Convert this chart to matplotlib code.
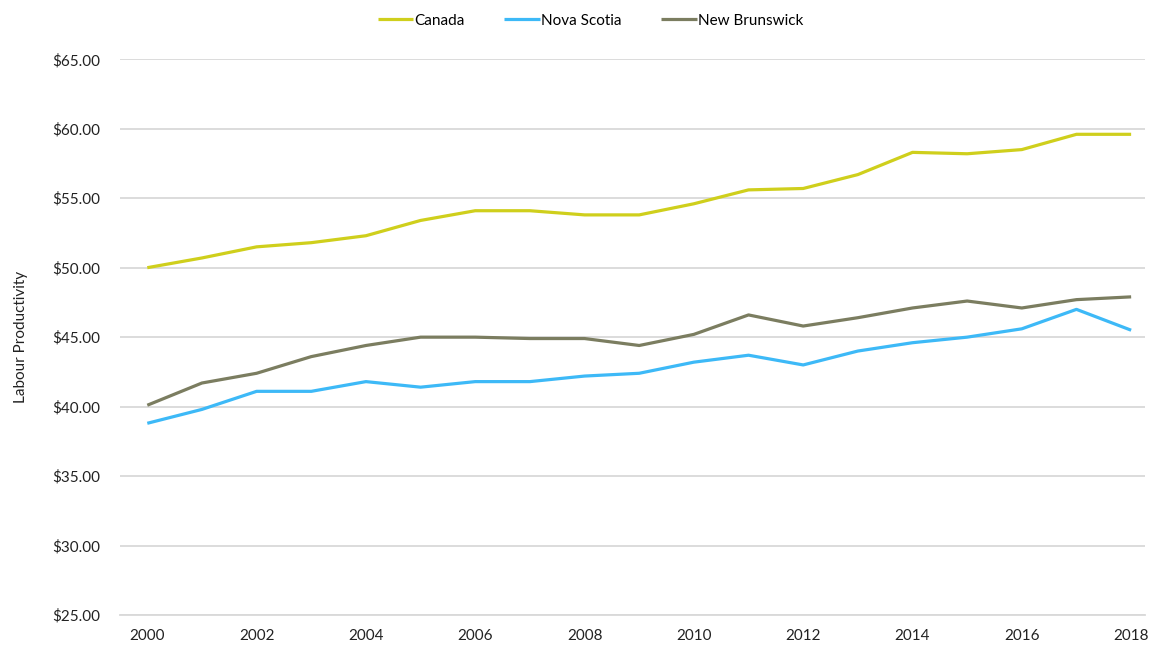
import numpy as np
import matplotlib.pyplot as plt
from matplotlib.ticker import FuncFormatter

years = list(range(2000, 2019))

canada = [50.0, 50.7, 51.5, 51.8, 52.3, 53.4, 54.1, 54.1, 53.8, 53.8,
          54.6, 55.6, 55.7, 56.7, 58.3, 58.2, 58.5, 59.6, 59.6]
nova_scotia = [38.8, 39.8, 41.1, 41.1, 41.8, 41.4, 41.8, 41.8, 42.2, 42.4,
               43.2, 43.7, 43.0, 44.0, 44.6, 45.0, 45.6, 47.0, 45.5]
new_brunswick = [40.1, 41.7, 42.4, 43.6, 44.4, 45.0, 45.0, 44.9, 44.9, 44.4,
                 45.2, 46.6, 45.8, 46.4, 47.1, 47.6, 47.1, 47.7, 47.9]

series = [
    ("Canada", canada, "#CFCF1C"),
    ("Nova Scotia", nova_scotia, "#3DB9F7"),
    ("New Brunswick", new_brunswick, "#7B7D60"),
]

plt.rcParams["font.family"] = ["Lato", "DejaVu Sans"]

fig = plt.figure(figsize=(11.58, 6.5), dpi=100)
ax = fig.add_axes([0.1036, 0.0538, 0.885, 0.855])

for name, vals, color in series:
    ax.plot(years, vals, color=color, linewidth=2.3, label=name,
            solid_joinstyle="round", solid_capstyle="butt")

ax.set_ylim(25, 65)
ax.set_yticks(np.arange(25, 66, 5))
ax.yaxis.set_major_formatter(FuncFormatter(lambda v, p: f"${v:.2f}"))
ax.set_xlim(1999.5, 2018.25)
ax.set_xticks(years[::2])

ax.grid(axis="y", color="#D9D9D9", linewidth=1.3)
ax.set_axisbelow(True)
for s in ["top", "right", "left"]:
    ax.spines[s].set_visible(False)
ax.spines["bottom"].set_color("#D9D9D9")
ax.spines["bottom"].set_linewidth(1.3)
ax.tick_params(axis="both", length=0, labelsize=11, colors="#222222", pad=10)
ax.tick_params(axis="y", pad=14)

ax.set_ylabel("Labour Productivity", fontsize=11, color="#222222", labelpad=18)

fig.legend(loc="upper center", bbox_to_anchor=(0.51, 1.0), ncol=3,
           frameon=False, fontsize=11, handlelength=2.3, handletextpad=0.1,
           columnspacing=2.6)

fig.savefig("out.png", dpi=100)
